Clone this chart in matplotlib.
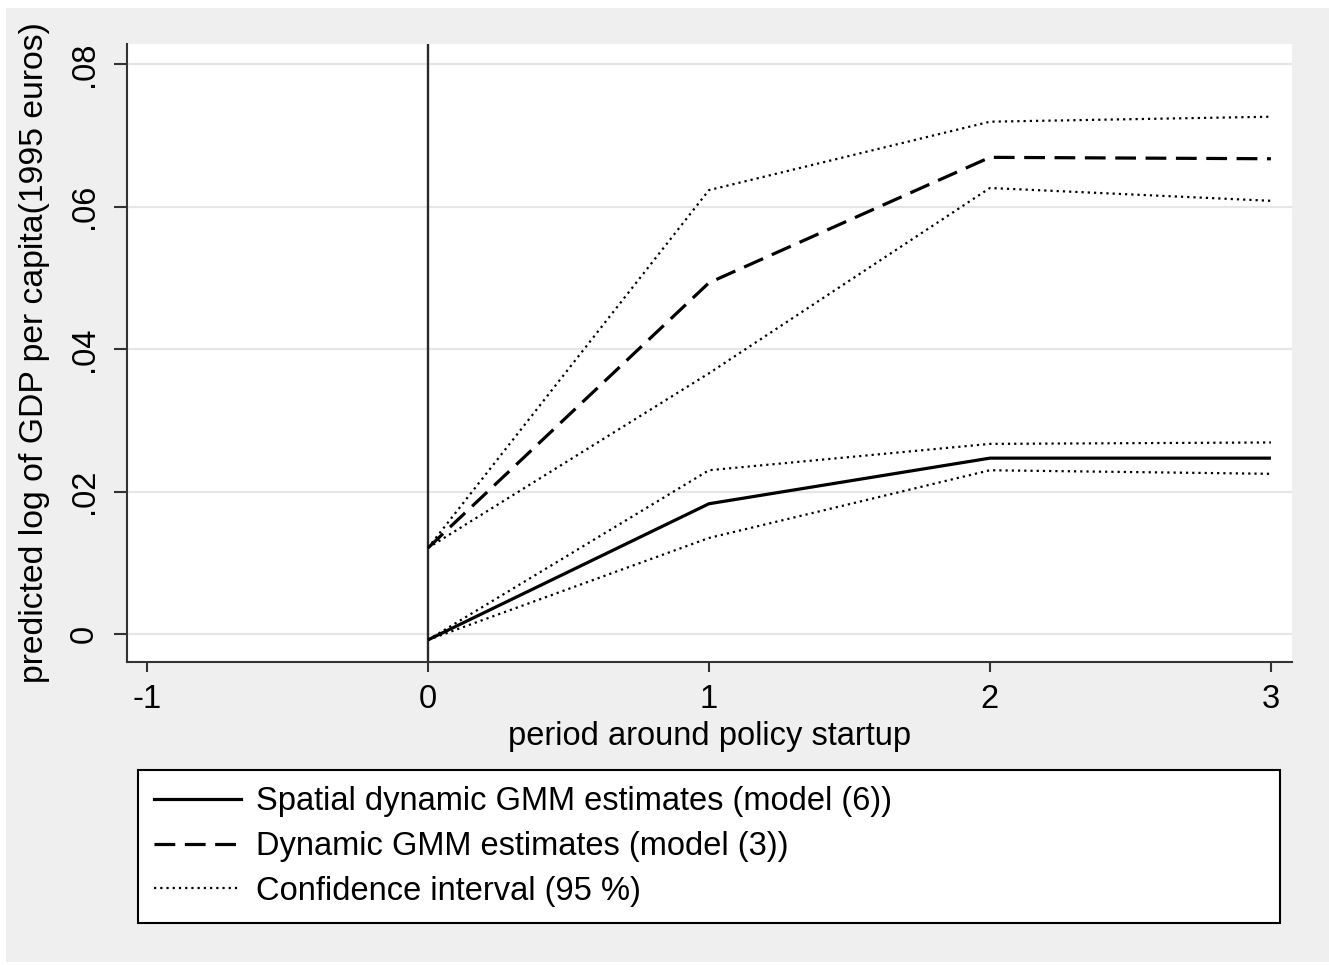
import matplotlib
matplotlib.use("Agg")
import matplotlib.pyplot as plt
from matplotlib.patches import Rectangle


# ============================================
# Data
# ============================================

periods = [0, 1, 2, 3]

spatial_est = [-0.0008, 0.0183, 0.0247, 0.0247]
spatial_hi = [-0.0008, 0.0230, 0.0267, 0.0269]
spatial_lo = [-0.0008, 0.0135, 0.0230, 0.0225]

dynamic_est = [0.0121, 0.0493, 0.0669, 0.0667]
dynamic_hi = [0.0121, 0.0623, 0.0719, 0.0726]
dynamic_lo = [0.0121, 0.0366, 0.0626, 0.0608]

x_ticks = [-1, 0, 1, 2, 3]
y_ticks = [0, 0.02, 0.04, 0.06, 0.08]
y_tick_labels = ["0", ".02", ".04", ".06", ".08"]

legend_labels = [
    "Spatial dynamic GMM estimates (model (6))",
    "Dynamic GMM estimates (model (3))",
    "Confidence interval (95 %)",
]


# ============================================
# Figure setup
# ============================================

W, H = 1329, 965
FS = 23.5
plt.rcParams["font.family"] = ["Liberation Sans", "DejaVu Sans"]
plt.rcParams["axes.unicode_minus"] = False

fig = plt.figure(figsize=(W / 100, H / 100), dpi=100)
fig.patch.set_facecolor("white")

# grey Stata-style background
fig.patches.append(Rectangle((6 / W, 1 - 962 / H), 1 - 6 / W, (962 - 8) / H,
                             transform=fig.transFigure, facecolor="#efefef",
                             edgecolor="none", zorder=-10))

left, right, top, bottom = 127, 1292, 44, 662
ax = fig.add_axes([left / W, 1 - bottom / H, (right - left) / W, (bottom - top) / H])
ax.set_zorder(2)
ax.set_facecolor("white")

# ============================================
# Lines
# ============================================

dot = (0, (1, 1.8))
dot_lw = 1.6
ax.plot(periods, spatial_hi, color="black", lw=dot_lw, linestyle=dot)
ax.plot(periods, spatial_lo, color="black", lw=dot_lw, linestyle=dot)
ax.plot(periods, dynamic_hi, color="black", lw=dot_lw, linestyle=dot)
ax.plot(periods, dynamic_lo, color="black", lw=dot_lw, linestyle=dot)

ax.plot(periods, spatial_est, color="black", lw=2.3, solid_capstyle="butt")
ax.plot(periods, dynamic_est, color="black", lw=2.3, linestyle=(0, (6.5, 3.0)))

ax.axvline(0, color="#2a2a2a", lw=1.7, zorder=1)

# ============================================
# Axes styling
# ============================================

ax.set_xlim(-1.071, 3.075)
ax.set_ylim(-0.0039, 0.0828)

ax.set_xticks(x_ticks)
ax.set_yticks(y_ticks)
ax.set_yticklabels(y_tick_labels, rotation=90, va="center")

ax.grid(axis="y", color="#e6e6e6", lw=1.6)
ax.set_axisbelow(True)

for side in ["top", "right"]:
    ax.spines[side].set_visible(False)
for side in ["left", "bottom"]:
    ax.spines[side].set_color("#333333")
    ax.spines[side].set_linewidth(1.5)

ax.tick_params(axis="x", length=7.5, width=1.5, color="#333333", pad=8, labelsize=FS)
ax.tick_params(axis="y", length=9.5, width=1.5, color="#333333", pad=10, labelsize=FS)

ax.set_xlabel("period around policy startup", fontsize=FS)
ax.set_ylabel("predicted log of GDP per capita(1995 euros)", fontsize=24.3)
ax.xaxis.set_label_coords(0.5, -0.095)
ax.yaxis.set_label_coords(-0.066, 0.5)

# ============================================
# Legend
# ============================================

h_solid = plt.Line2D([], [], color="black", lw=2.3)
h_dash = plt.Line2D([], [], color="black", lw=2.3, linestyle=(0, (6.5, 3.0)))
h_dot = plt.Line2D([], [], color="black", lw=dot_lw, linestyle=dot)

leg = fig.legend(
    [h_solid, h_dash, h_dot], legend_labels,
    loc="upper left",
    bbox_to_anchor=(138 / W, 1 - 922 / H, (1280 - 138) / W, (922 - 770) / H),
    mode="expand",
    fontsize=FS,
    frameon=True,
    fancybox=False,
    edgecolor="black",
    framealpha=1,
    handlelength=2.65,
    handletextpad=0.45,
    labelspacing=0.42,
    borderpad=0.5,
    borderaxespad=0,
)
leg.get_frame().set_linewidth(1.5)
leg.get_frame().set_facecolor("white")

fig.savefig("out.png", dpi=100, facecolor=fig.get_facecolor())
